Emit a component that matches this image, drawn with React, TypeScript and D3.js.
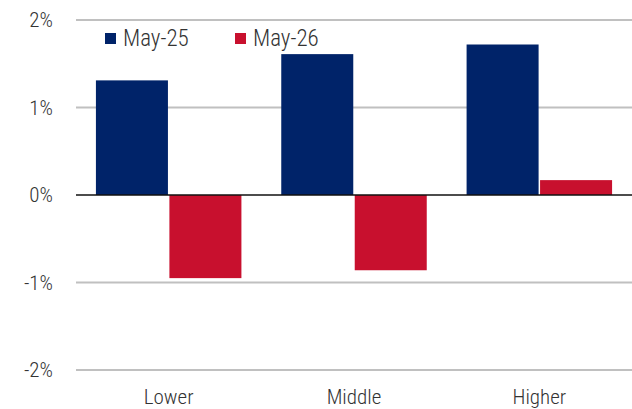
import React from "react";
import * as d3 from "d3";

const categories = ["Lower", "Middle", "Higher"];
const seriesNames = ["May-25", "May-26"];
const may25 = [1.31, 1.61, 1.72];
const may26 = [-0.95, -0.86, 0.17];
const yTicks = [-2, -1, 0, 1, 2];
const colors = ["#002369", "#C8102E"];

const W = 632, H = 409;
const margin = { left: 76, right: 0, top: 20, bottom: 39 };
const FONT = "'Liberation Sans Narrow', 'Roboto Condensed', 'Open Sans', sans-serif";

export default function App() {
  const x = d3.scaleBand().domain(categories).range([margin.left, W - margin.right]).paddingInner(0.215).paddingOuter(0.1075);
  const x1 = d3.scaleBand().domain(seriesNames).range([0, x.bandwidth()]).paddingInner(0.02);
  const y = d3.scaleLinear().domain([-2, 2]).range([H - margin.bottom, margin.top]);
  const series = [may25, may26];
  return (
    <svg width={W} height={H} style={{ position: "absolute", left: 0, top: 0 }} fontFamily={FONT} fontWeight={300}>
      {yTicks.map((t) => (
        <g key={t}>
          {t !== 0 && <line x1={margin.left} x2={W} y1={y(t)} y2={y(t)} stroke="#c0c0c0" strokeWidth={2} />}
          <text x={53} y={y(t)} dy="0.35em" textAnchor="end" fontSize={21} fill="#333">{t}%</text>
        </g>
      ))}
      {series.map((vals, si) =>
        categories.map((c, ci) => {
          const v = vals[ci];
          const bx = (x(c) as number) + (x1(seriesNames[si]) as number);
          return (
            <rect key={si + c} x={bx} width={x1.bandwidth()} y={y(Math.max(0, v))} height={Math.abs(y(v) - y(0))} fill={colors[si]} />
          );
        })
      )}
      <line x1={margin.left} x2={W} y1={y(0)} y2={y(0)} stroke="#111" strokeWidth={1.5} />
      {categories.map((c) => (
        <text key={c} x={(x(c) as number) + x.bandwidth() / 2} y={404} textAnchor="middle" fontSize={21} fill="#333">{c}</text>
      ))}
      {seriesNames.map((s, i) => (
        <g key={s} transform={`translate(${105 + i * 130},0)`}>
          <rect x={0} y={33} width={11} height={11} fill={colors[i]} />
          <text x={18} y={46} fontSize={23} fill="#333">{s}</text>
        </g>
      ))}
    </svg>
  );
}
